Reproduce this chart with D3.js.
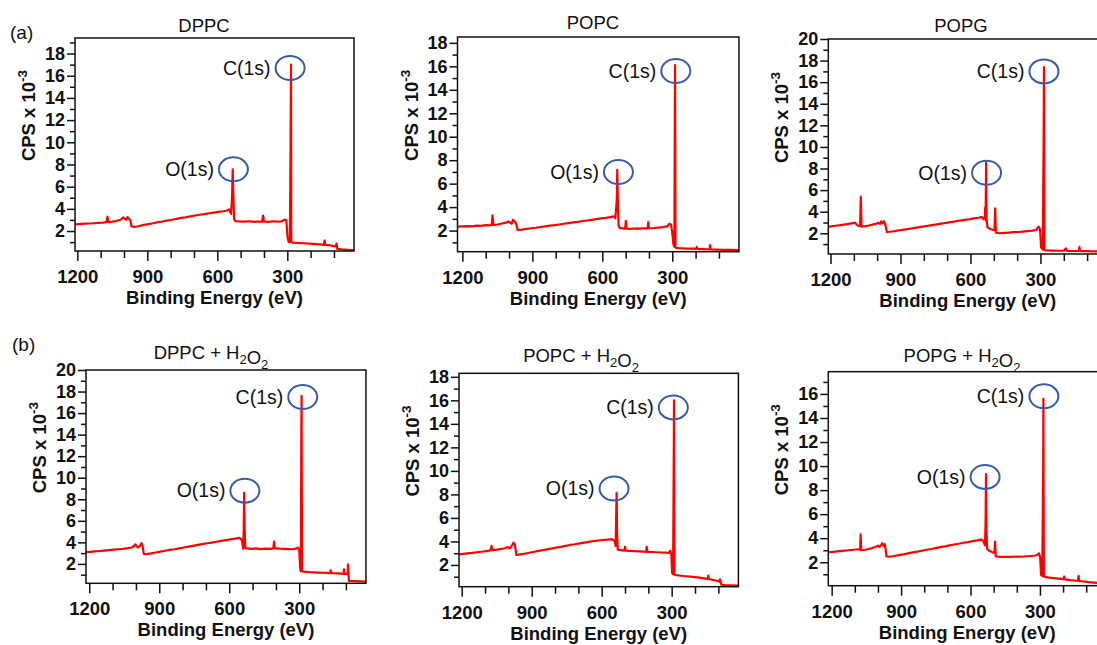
<!DOCTYPE html>
<html>
<head>
<meta charset="utf-8">
<script src="https://cdn.jsdelivr.net/npm/d3@7"></script>
<style>
  body { margin: 0; background: #fff; }
  svg { font-family: "Liberation Sans", Arial, sans-serif; }
</style>
</head>
<body>
<svg id="fig" width="1097" height="645"></svg>
<script>
// XPS survey spectra, [binding energy (eV), CPS x 10^-3]
const dppc = [
  [1210,2.60],[1190,2.63],[1170,2.66],[1150,2.68],[1130,2.70],[1110,2.74],[1090,2.76],[1075,2.80],
  [1071,3.30],[1067,2.80],[1050,2.85],[1030,2.92],[1015,3.02],[1004,3.22],[996,3.10],[990,3.00],
  [985,3.25],[979,3.12],[972,2.95],[968,2.42],[955,2.36],[935,2.45],[915,2.55],[895,2.62],
  [875,2.70],[855,2.80],[835,2.86],[815,2.95],[795,3.02],[775,3.10],[755,3.18],[735,3.24],
  [715,3.32],[695,3.40],[675,3.47],[655,3.52],[635,3.60],[615,3.66],[595,3.72],[575,3.78],
  [558,3.85],[549,3.95],[541,3.55],[537,5.00],[534,7.55],[531,5.20],[528,3.05],[522,2.90],
  [505,2.86],[485,2.84],[465,2.88],[445,2.82],[425,2.86],[408,2.84],[404,3.40],[400,2.86],
  [380,2.82],[360,2.88],[340,2.84],[322,2.90],[310,3.04],[304,2.96],[299,1.45],[294,1.02],
  [289,0.98],[285,13.3],[284,17.0],[283,1.10],[278,0.96],[255,0.93],[230,0.90],[205,0.86],
  [180,0.82],[160,0.79],[144,0.76],[140,1.15],[137,0.76],[120,0.72],[105,0.66],[92,0.62],
  [89,0.88],[86,0.40],[65,0.35],[40,0.31],[14,0.28]
];
const popc = [
  [1221,2.34],[1200,2.36],[1180,2.38],[1160,2.36],[1140,2.42],[1120,2.40],[1100,2.46],[1085,2.44],
  [1074,2.48],[1071,3.30],[1067,2.46],[1050,2.52],[1030,2.60],[1012,2.68],[1003,2.78],[996,2.70],
  [989,2.58],[983,2.92],[977,2.80],[970,2.62],[963,2.06],[945,2.08],[925,2.14],[905,2.20],
  [885,2.24],[865,2.30],[845,2.36],[825,2.42],[805,2.46],[785,2.52],[765,2.58],[745,2.64],
  [725,2.70],[705,2.74],[685,2.82],[665,2.86],[645,2.92],[625,2.98],[605,3.04],[585,3.08],
  [565,3.14],[552,3.22],[544,3.05],[538,4.60],[536,7.18],[533,4.20],[530,2.40],[524,2.20],
  [512,2.18],[502,2.16],[499,2.82],[496,2.16],[480,2.14],[460,2.18],[440,2.16],[420,2.20],
  [406,2.18],[403,2.72],[400,2.20],[380,2.22],[360,2.26],[340,2.30],[322,2.36],[312,2.58],
  [305,2.50],[300,1.80],[295,0.80],[291,0.62],[289,12.0],[288,16.1],[286,0.55],[280,0.50],
  [260,0.48],[240,0.46],[220,0.46],[198,0.44],[195,0.62],[192,0.44],[170,0.42],[150,0.41],
  [140,0.40],[138,0.76],[135,0.40],[110,0.38],[80,0.36],[50,0.35],[14,0.33]
];
const popg = [
  [1209,2.60],[1190,2.66],[1170,2.72],[1150,2.78],[1130,2.84],[1110,2.92],[1095,2.98],[1088,2.80],
  [1078,2.66],[1073,2.70],[1070,5.40],[1067,2.62],[1050,2.66],[1035,2.72],[1020,2.80],[1005,2.88],
  [995,2.98],[988,2.86],[983,3.10],[977,2.92],[972,3.12],[966,2.90],[958,2.12],[945,2.14],
  [925,2.20],[905,2.28],[885,2.34],[865,2.40],[845,2.48],[825,2.54],[805,2.62],[785,2.68],
  [765,2.76],[745,2.82],[725,2.90],[705,2.96],[685,3.04],[665,3.10],[645,3.18],[625,3.24],
  [605,3.30],[585,3.38],[565,3.44],[552,3.52],[545,3.30],[539,3.40],[537,4.40],[535,3.20],
  [533,8.55],[531,3.30],[527,2.55],[515,2.40],[505,2.32],[497,2.30],[494,4.30],[491,2.05],
  [475,2.00],[455,2.04],[435,2.06],[415,2.10],[395,2.12],[375,2.16],[355,2.20],[335,2.24],
  [318,2.30],[308,2.62],[302,2.40],[297,0.70],[290,0.48],[286,12.5],[285,17.4],[283,0.45],
  [275,0.42],[250,0.40],[225,0.38],[200,0.38],[190,0.60],[187,0.37],[160,0.36],[136,0.36],
  [133,0.74],[130,0.35],[100,0.34],[70,0.33],[40,0.32],[14,0.30]
];
const dppcH2O2 = [
  [1214,3.09],[1195,3.12],[1175,3.16],[1155,3.20],[1135,3.24],[1115,3.28],[1095,3.32],[1075,3.36],
  [1055,3.40],[1035,3.46],[1020,3.52],[1010,3.62],[1002,3.82],[996,3.60],[990,3.52],[982,3.70],
  [976,3.92],[971,3.60],[966,2.92],[955,2.90],[935,2.98],[915,3.06],[895,3.14],[875,3.22],
  [855,3.30],[835,3.36],[815,3.44],[795,3.52],[775,3.60],[755,3.68],[735,3.76],[715,3.84],
  [695,3.92],[675,3.98],[655,4.06],[635,4.14],[615,4.20],[595,4.28],[575,4.34],[556,4.42],
  [546,4.20],[540,3.40],[538,5.00],[536,8.60],[534,5.20],[531,3.50],[525,3.44],[505,3.40],
  [485,3.44],[465,3.38],[445,3.42],[425,3.40],[411,3.44],[408,4.07],[405,3.46],[385,3.42],
  [365,3.40],[345,3.38],[325,3.36],[312,3.44],[305,3.52],[300,3.30],[296,1.60],[293,1.30],
  [291,14.4],[290,17.6],[288,1.32],[280,1.28],[260,1.24],[240,1.22],[220,1.20],[200,1.18],
  [180,1.16],[168,1.14],[165,1.40],[162,1.14],[140,1.12],[120,1.10],[110,1.08],[108,1.50],
  [105,1.08],[93,1.05],[91,1.97],[89,1.20],[87,0.43],[60,0.40],[35,0.38],[14,0.36]
];
const popcH2O2 = [
  [1212,2.90],[1195,2.94],[1175,2.98],[1155,3.02],[1135,3.08],[1115,3.12],[1095,3.18],[1076,3.24],
  [1072,3.62],[1068,3.26],[1050,3.30],[1030,3.36],[1012,3.44],[1002,3.52],[995,3.42],[989,3.50],
  [983,3.72],[978,3.90],[972,3.72],[966,2.86],[955,2.88],[935,2.94],[915,3.02],[895,3.10],
  [875,3.18],[855,3.26],[835,3.32],[815,3.40],[795,3.48],[775,3.54],[755,3.62],[735,3.70],
  [715,3.76],[695,3.84],[675,3.90],[655,3.96],[635,4.02],[615,4.08],[595,4.12],[575,4.16],
  [556,4.20],[545,4.05],[540,3.60],[538,6.00],[536,8.14],[534,4.80],[531,3.30],[525,3.28],
  [510,3.24],[503,3.22],[500,3.55],[497,3.22],[480,3.20],[460,3.18],[440,3.16],[420,3.14],
  [410,3.12],[407,3.55],[404,3.12],[385,3.10],[365,3.08],[345,3.06],[325,3.04],[312,3.02],
  [306,3.22],[301,2.80],[298,1.30],[294,1.20],[291,11.5],[290,16.0],[288,1.18],[280,1.14],
  [260,1.08],[240,1.04],[220,1.00],[200,0.96],[180,0.92],[160,0.86],[146,0.80],[143,1.10],
  [140,0.80],[120,0.72],[100,0.62],[95,0.58],[93,0.78],[90,0.56],[87,0.32],[70,0.28],
  [45,0.26],[14,0.24]
];
const popgH2O2 = [
  [1214,2.83],[1195,2.86],[1175,2.90],[1155,2.94],[1135,2.98],[1115,3.02],[1095,3.06],[1082,3.08],
  [1077,3.04],[1075,4.33],[1072,3.00],[1055,3.04],[1040,3.10],[1025,3.18],[1010,3.28],[1000,3.38],
  [993,3.28],[987,3.40],[981,3.58],[975,3.36],[970,3.50],[963,2.48],[950,2.46],[930,2.52],
  [910,2.60],[890,2.66],[870,2.74],[850,2.82],[830,2.88],[810,2.96],[790,3.04],[770,3.10],
  [750,3.18],[730,3.26],[710,3.32],[690,3.40],[670,3.48],[650,3.54],[630,3.62],[610,3.68],
  [590,3.76],[570,3.82],[553,3.90],[543,3.70],[538,3.40],[535,5.00],[533,9.34],[531,4.60],
  [528,3.10],[522,3.00],[512,2.90],[502,2.80],[497,2.76],[494,3.72],[491,2.50],[480,2.46],
  [460,2.44],[440,2.46],[420,2.44],[400,2.48],[380,2.46],[360,2.50],[340,2.52],[320,2.56],
  [310,2.62],[304,2.74],[299,2.40],[295,0.94],[290,0.86],[286,10.0],[285,15.6],[283,0.82],
  [278,0.78],[260,0.72],[240,0.68],[220,0.64],[198,0.60],[195,0.82],[192,0.58],[170,0.52],
  [150,0.48],[136,0.46],[133,0.86],[130,0.44],[110,0.40],[90,0.35],[65,0.30],[40,0.26],[14,0.24]
];

const spectra = [dppc, popc, popg, dppcH2O2, popcH2O2, popgH2O2];
const titles = ["DPPC", "POPC", "POPG", "DPPC + H2O2", "POPC + H2O2", "POPG + H2O2"];
const xTickLabelled = [1200, 900, 600, 300];
const xTickPlain = [1100, 1000, 800, 700, 500, 400, 200, 100];
const yTopLabel = [18, 18, 20, 20, 18, 16];
// circle centres [eV, CPS x 10^-3]
const markC = [[288,16.7],[285,15.6],[285,17.0],[285,17.5],[293,15.4],[283,15.8]];
const markO = [[531,7.56],[531,7.0],[531,7.6],[533,8.8],[547,8.5],[537,9.1]];
const panelTags = ["(a)", "(b)"];

// layout of each plot box in pixels
const layout = [
  {left: 75,    top: 38,    bottom: 251,   xMax: 1210,   xMin: 14, ppe: 0.2333, yLo: 0.2,  yHi: 19.4,  tx: 204,   ty: 32},
  {left: 457.5, top: 37,    bottom: 251.7, xMax: 1221,   xMin: 14, ppe: 0.2332, yLo: 0.2,  yHi: 18.5,  tx: 593,   ty: 28.5},
  {left: 828.3, top: 39,    bottom: 254,   xMax: 1209.4, xMin: 14, ppe: 0.2333, yLo: 0.08, yHi: 20,    tx: 961,   ty: 31.5},
  {left: 86,    top: 370,   bottom: 583.3, xMax: 1214,   xMin: 14, ppe: 0.2333, yLo: 0.2,  yHi: 20,    tx: 211,   ty: 359},
  {left: 459,   top: 373.3, bottom: 586.7, xMax: 1211.6, xMin: 14, ppe: 0.2333, yLo: 0.15, yHi: 18.3,  tx: 581,   ty: 362},
  {left: 828.3, top: 371.7, bottom: 585.7, xMax: 1214.6, xMin: 14, ppe: 0.2314, yLo: 0.05, yHi: 17.85, tx: 962,   ty: 361.5}
];

const ink = "#111";
const svg = d3.select("#fig");

panelTags.forEach(function(t, i) {
  svg.append("text")
    .attr("x", i === 0 ? 10 : 12)
    .attr("y", i === 0 ? 39 : 351)
    .attr("font-size", 19)
    .attr("fill", ink)
    .text(t);
});

spectra.forEach(function(data, i) {
  const L = layout[i];
  const right = L.left + (L.xMax - L.xMin) * L.ppe;
  const x = d3.scaleLinear().domain([L.xMax, L.xMin]).range([L.left, right]);
  const y = d3.scaleLinear().domain([L.yLo, L.yHi]).range([L.bottom, L.top]);
  const g = svg.append("g");

  g.append("clipPath").attr("id", "clip" + i)
    .append("rect")
    .attr("x", L.left).attr("y", L.top)
    .attr("width", right - L.left).attr("height", L.bottom - L.top);

  // spectrum
  const line = d3.line().x(d => x(d[0])).y(d => y(d[1]));
  g.append("path")
    .datum(data)
    .attr("clip-path", "url(#clip" + i + ")")
    .attr("fill", "none")
    .attr("stroke", "#ff0000")
    .attr("stroke-width", 2.2)
    .attr("stroke-linejoin", "round")
    .attr("d", line);

  // x axis
  const xa = g.append("g").attr("transform", "translate(0," + L.bottom + ")")
    .call(d3.axisBottom(x).tickValues(xTickLabelled).tickSize(10).tickPadding(9).tickFormat(d3.format("d")));
  const xb = g.append("g").attr("transform", "translate(0," + L.bottom + ")")
    .call(d3.axisBottom(x).tickValues(xTickPlain).tickSize(7).tickFormat(""));

  // y axis
  const majors = d3.range(2, yTopLabel[i] + 1, 2);
  const minors = d3.range(1, Math.floor(L.yHi) + 1, 2);
  const ya = g.append("g").attr("transform", "translate(" + L.left + ",0)")
    .call(d3.axisLeft(y).tickValues(majors).tickSize(8).tickPadding(2).tickFormat(d3.format("d")));
  const yb = g.append("g").attr("transform", "translate(" + L.left + ",0)")
    .call(d3.axisLeft(y).tickValues(minors).tickSize(5).tickFormat(""));

  [xa, xb, ya, yb].forEach(function(a) {
    a.select(".domain").remove();
    a.selectAll("line").attr("stroke", ink).attr("stroke-width", 1.5);
    a.selectAll("text").attr("fill", ink).attr("font-weight", "bold")
      .attr("font-family", "'Liberation Sans', Arial, sans-serif");
  });
  xa.selectAll("text").attr("font-size", 18.5);
  ya.selectAll("text").attr("font-size", 18);

  // plot frame
  g.append("rect")
    .attr("x", L.left).attr("y", L.top)
    .attr("width", right - L.left).attr("height", L.bottom - L.top)
    .attr("fill", "none").attr("stroke", ink).attr("stroke-width", 1.5);

  // axis titles
  const cx = (L.left + right) / 2;
  g.append("text")
    .attr("x", cx).attr("y", L.bottom + 53)
    .attr("text-anchor", "middle")
    .attr("font-size", 18.5).attr("font-weight", "bold").attr("fill", ink)
    .text("Binding Energy (eV)");

  const yl = g.append("text")
    .attr("transform", "translate(" + (L.left - 40) + "," + ((L.top + L.bottom) / 2 - 29) + ") rotate(-90)")
    .attr("text-anchor", "middle")
    .attr("font-size", 18.5).attr("font-weight", "bold").attr("fill", ink);
  yl.append("tspan").text("CPS x 10");
  yl.append("tspan").attr("dy", -8).attr("font-size", 13.5).text("-3");

  // panel title, digits as subscripts
  const tt = g.append("text")
    .attr("x", L.tx).attr("y", L.ty)
    .attr("text-anchor", "middle")
    .attr("font-size", 18.5).attr("fill", ink);
  titles[i].split(/(\d)/).filter(s => s.length).forEach(function(s) {
    if (/^\d$/.test(s)) {
      tt.append("tspan").attr("dy", 5).attr("font-size", 13).text(s);
      tt.append("tspan").attr("dy", -5).text("");
    } else {
      tt.append("tspan").text(s);
    }
  });

  // peak annotations
  [[markC[i], "C(1s)"], [markO[i], "O(1s)"]].forEach(function(m) {
    const px = x(m[0][0]), py = y(m[0][1]);
    g.append("ellipse")
      .attr("cx", px).attr("cy", py).attr("rx", 14.5).attr("ry", 12)
      .attr("fill", "none").attr("stroke", "#3a5ca6").attr("stroke-width", 2);
    g.append("text")
      .attr("x", px - 14.5 - 5).attr("y", py)
      .attr("dy", "0.35em")
      .attr("text-anchor", "end")
      .attr("font-size", 19.5).attr("fill", ink)
      .text(m[1]);
  });
});
</script>
</body>
</html>
